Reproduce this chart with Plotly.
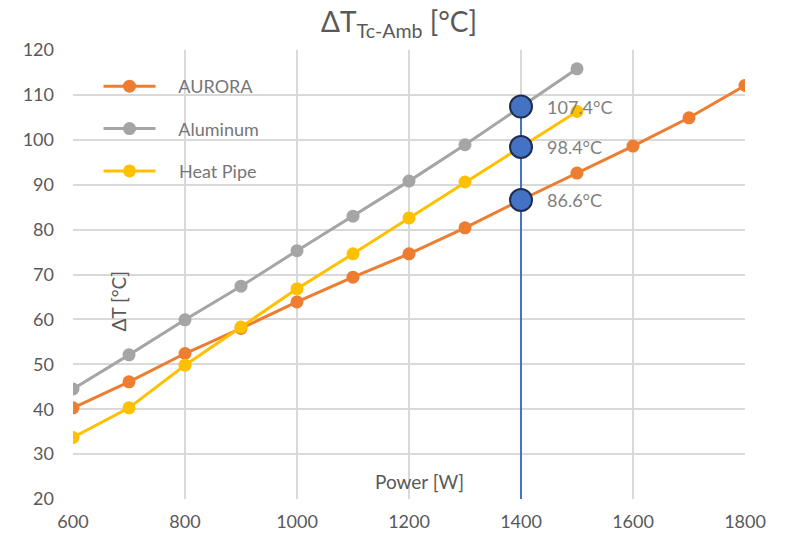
import plotly.graph_objects as go

power = [600, 700, 800, 900, 1000, 1100, 1200, 1300, 1400, 1500, 1600, 1700, 1800]
aurora = [40.3, 46.1, 52.4, 58.0, 63.9, 69.4, 74.6, 80.4, 86.6, 92.6, 98.6, 104.9, 112.1]
aluminum = [44.5, 52.1, 59.9, 67.4, 75.3, 83.0, 90.8, 98.9, 107.4, 115.8]
heat_pipe = [33.7, 40.3, 49.8, 58.3, 66.8, 74.6, 82.6, 90.6, 98.4, 106.3]

highlight_x = [1400, 1400, 1400]
highlight_y = [107.4, 98.4, 86.6]
highlight_labels = ["107.4°C", "98.4°C", "86.6°C"]
vline_y = [20, 107.4]

FONT = "Lato"
PAD = "\u00a0" * 4
fig = go.Figure()

series = [
    ("AURORA", power, aurora, "#ED7D31"),
    ("Aluminum", power[:len(aluminum)], aluminum, "#A5A5A5"),
    ("Heat Pipe", power[:len(heat_pipe)], heat_pipe, "#FFC000"),
]
for name, xs, ys, col in series:
    fig.add_trace(go.Scatter(
        x=xs, y=ys, name=PAD + name, mode="lines+markers",
        line=dict(color=col, width=3),
        marker=dict(color=col, size=13),
        legendgroup=name,
    ))

fig.add_trace(go.Scatter(
    x=[highlight_x[0], highlight_x[0]], y=vline_y, mode="lines",
    line=dict(color="#4472C4", width=2), showlegend=False, hoverinfo="skip",
))
fig.add_trace(go.Scatter(
    x=highlight_x, y=highlight_y, mode="markers", showlegend=False,
    marker=dict(color="#4472C4", size=22, line=dict(color="#1F2D4F", width=2)),
))

for xv, yv, t in zip(highlight_x, highlight_y, highlight_labels):
    fig.add_annotation(x=xv, y=yv, text=t, showarrow=False, xanchor="left",
                       xshift=24, font=dict(family=FONT, size=18, color="#808080"))

fig.add_annotation(x=0.485, y=1.0, xref="paper", yref="paper", xanchor="center", yanchor="bottom",
                   text="ΔT<sub>Tc-Amb</sub> [°C]", showarrow=False, yshift=6,
                   font=dict(family=FONT, size=28, color="#595959"))
fig.add_annotation(x=0.067, y=0.44, xref="paper", yref="paper", text="ΔT [°C]",
                   textangle=-90, showarrow=False, xanchor="center", yanchor="middle",
                   font=dict(family=FONT, size=19, color="#595959"))
fig.add_annotation(x=0.515, y=0.038, xref="paper", yref="paper", text="Power [W]",
                   showarrow=False, xanchor="center", yanchor="middle",
                   font=dict(family=FONT, size=19, color="#595959"))

axis_common = dict(
    showgrid=True, gridcolor="#D9D9D9", gridwidth=1.5,
    zeroline=False, showline=False, ticks="",
    tickfont=dict(family=FONT, size=18, color="#595959"),
)
fig.update_xaxes(range=[600, 1800], dtick=200, ticklabelstandoff=10, **axis_common)
fig.update_yaxes(range=[20, 120], dtick=10, ticklabelstandoff=18, **axis_common)

fig.update_layout(
    width=787, height=544,
    margin=dict(l=73, r=42, t=50, b=45),
    plot_bgcolor="white", paper_bgcolor="white",
    showlegend=True,
    legend=dict(x=0.038, y=0.96, xanchor="left", yanchor="top",
                bgcolor="rgba(0,0,0,0)", tracegroupgap=16, itemwidth=52,
                font=dict(family=FONT, size=18, color="#767676")),
    font=dict(family=FONT),
)

fig.write_html("out.html")
